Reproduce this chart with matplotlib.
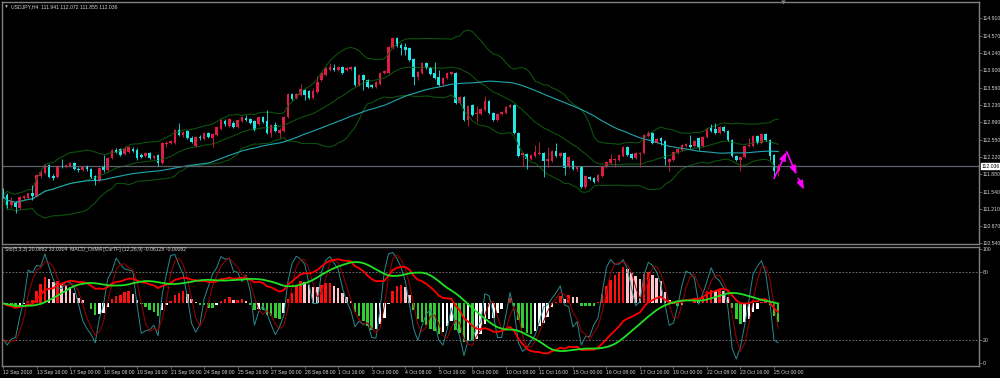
import matplotlib.pyplot as plt
import numpy as np
import pandas as pd

plt.rcParams['font.family'] = ['Liberation Sans', 'DejaVu Sans']

# USDJPY H4 candles, 12 Sep 2018 -> 25 Oct 2018 04:00
opens = [
    111.58, 111.48, 111.28, 111.32, 111.23, 111.42, 111.42, 111.52, 111.46, 111.85,
    111.91, 112.06, 111.85, 111.83, 112.04, 112.02, 112.04, 112.10, 111.98, 111.96,
    112.02, 111.98, 111.85, 111.75, 112.02, 111.96, 112.20, 112.35, 112.37, 112.27,
    112.31, 112.37, 112.35, 112.25, 112.24, 112.29, 112.20, 112.25, 112.10, 112.47,
    112.49, 112.49, 112.74, 112.64, 112.72, 112.59, 112.43, 112.60, 112.57, 112.68,
    112.59, 112.64, 112.76, 112.92, 112.82, 112.88, 112.80, 112.92, 112.97, 112.95,
    112.92, 112.86, 112.99, 112.92, 112.68, 112.84, 112.68, 112.72, 112.99, 113.44,
    113.36, 113.42, 113.52, 113.50, 113.36, 113.48, 113.71, 113.81, 113.91, 113.94,
    113.91, 113.96, 113.91, 113.92, 113.96, 113.61, 113.81, 113.71, 113.61, 113.58,
    113.63, 113.85, 113.85, 114.33, 114.53, 114.39, 114.35, 114.33, 114.12, 113.77,
    113.85, 114.04, 113.94, 113.85, 113.77, 113.63, 113.75, 113.83, 113.85, 113.26,
    113.38, 112.93, 113.23, 113.05, 113.05, 113.13, 113.30, 113.07, 112.93, 113.05,
    113.07, 113.19, 113.23, 112.68, 112.25, 112.27, 112.18, 112.24, 112.27, 112.29,
    112.14, 112.14, 112.33, 112.24, 112.29, 112.02, 112.14, 111.98, 112.02, 111.63,
    111.83, 111.81, 111.75, 111.85, 112.02, 112.10, 112.16, 112.16, 112.24, 112.41,
    112.27, 112.20, 112.27, 112.29, 112.62, 112.68, 112.49, 112.59, 112.53, 112.12,
    112.16, 112.29, 112.35, 112.43, 112.45, 112.43, 112.59, 112.43, 112.60, 112.78,
    112.76, 112.68, 112.80, 112.72, 112.55, 112.24, 112.16, 112.22, 112.43, 112.43,
    112.62, 112.49, 112.66, 112.55, 112.25, 111.941,
]
highs = [
    111.61, 111.52, 111.44, 111.36, 111.46, 111.48, 111.52, 111.67, 111.89, 111.96,
    112.08, 112.08, 111.89, 112.06, 112.18, 112.08, 112.12, 112.12, 112.02, 112.04,
    112.06, 112.00, 111.87, 112.02, 112.25, 112.22, 112.37, 112.39, 112.39, 112.43,
    112.43, 112.41, 112.39, 112.29, 112.31, 112.31, 112.25, 112.27, 112.51, 112.53,
    112.55, 112.76, 112.88, 112.72, 112.74, 112.62, 112.62, 112.64, 112.70, 112.70,
    112.68, 112.82, 112.95, 112.95, 112.97, 112.92, 112.95, 113.01, 113.03, 112.97,
    112.93, 113.01, 113.01, 113.13, 112.86, 112.90, 112.78, 113.01, 113.46, 113.46,
    113.46, 113.63, 113.54, 113.52, 113.56, 113.79, 113.87, 113.96, 114.04, 114.02,
    113.98, 113.98, 113.96, 113.98, 113.98, 113.83, 113.83, 113.73, 113.63, 113.69,
    113.87, 113.91, 114.37, 114.55, 114.55, 114.43, 114.43, 114.35, 114.14, 113.89,
    114.06, 114.06, 113.96, 114.06, 113.91, 113.77, 113.87, 113.89, 113.87, 113.40,
    113.40, 113.23, 113.25, 113.21, 113.17, 113.40, 113.32, 113.09, 113.07, 113.11,
    113.21, 113.25, 113.25, 112.70, 112.31, 112.29, 112.27, 112.45, 112.51, 112.31,
    112.41, 112.35, 112.49, 112.31, 112.31, 112.24, 112.16, 112.04, 112.04, 111.87,
    111.85, 111.83, 111.89, 112.06, 112.14, 112.27, 112.20, 112.27, 112.43, 112.43,
    112.29, 112.31, 112.31, 112.66, 112.72, 112.70, 112.59, 112.60, 112.55, 112.20,
    112.33, 112.39, 112.47, 112.49, 112.64, 112.55, 112.60, 112.62, 112.78, 112.86,
    112.88, 112.82, 112.82, 112.74, 112.57, 112.25, 112.24, 112.45, 112.59, 112.64,
    112.64, 112.68, 112.68, 112.57, 112.27, 112.072,
]
lows = [
    111.42, 111.23, 111.25, 111.13, 111.21, 111.38, 111.40, 111.38, 111.44, 111.81,
    111.89, 111.81, 111.77, 111.81, 112.00, 112.00, 112.02, 111.96, 111.92, 111.94,
    111.94, 111.81, 111.67, 111.73, 111.92, 111.94, 112.18, 112.29, 112.24, 112.25,
    112.29, 112.31, 112.16, 112.20, 112.22, 112.18, 112.18, 112.04, 112.08, 112.41,
    112.47, 112.47, 112.62, 112.60, 112.57, 112.49, 112.41, 112.55, 112.55, 112.59,
    112.41, 112.62, 112.74, 112.82, 112.80, 112.78, 112.78, 112.90, 112.92, 112.86,
    112.72, 112.84, 112.88, 112.66, 112.60, 112.70, 112.59, 112.70, 112.97, 113.32,
    113.34, 113.40, 113.32, 113.34, 113.34, 113.46, 113.69, 113.79, 113.89, 113.89,
    113.89, 113.83, 113.89, 113.91, 113.60, 113.60, 113.52, 113.56, 113.56, 113.56,
    113.61, 113.83, 113.83, 114.31, 114.35, 114.20, 114.20, 114.08, 113.61, 113.71,
    113.83, 113.92, 113.81, 113.73, 113.60, 113.60, 113.73, 113.81, 113.25, 113.25,
    112.92, 112.82, 113.01, 112.90, 113.03, 113.11, 113.05, 112.92, 112.92, 113.03,
    113.05, 113.17, 112.66, 112.22, 112.04, 111.98, 112.16, 112.22, 112.25, 111.83,
    112.02, 112.12, 112.22, 112.22, 111.87, 112.00, 111.96, 111.94, 111.61, 111.61,
    111.77, 111.71, 111.73, 111.83, 112.00, 112.08, 112.02, 112.14, 112.22, 112.24,
    112.18, 112.18, 112.02, 112.27, 112.60, 112.47, 112.47, 112.45, 112.06, 111.94,
    112.14, 112.27, 112.33, 112.41, 112.39, 112.41, 112.35, 112.41, 112.59, 112.70,
    112.66, 112.66, 112.70, 112.53, 112.22, 112.14, 111.94, 112.20, 112.41, 112.41,
    112.47, 112.47, 112.53, 112.16, 111.83, 111.855,
]
closes = [
    111.46, 111.28, 111.34, 111.25, 111.44, 111.46, 111.52, 111.46, 111.87, 111.92,
    112.06, 111.83, 111.81, 112.04, 112.02, 112.06, 112.10, 111.98, 111.96, 112.02,
    111.98, 111.83, 111.75, 112.00, 111.96, 112.20, 112.35, 112.31, 112.25, 112.37,
    112.41, 112.33, 112.20, 112.22, 112.29, 112.20, 112.24, 112.10, 112.49, 112.49,
    112.53, 112.74, 112.64, 112.70, 112.59, 112.51, 112.60, 112.59, 112.68, 112.60,
    112.66, 112.80, 112.93, 112.86, 112.95, 112.80, 112.93, 112.99, 112.93, 112.88,
    112.74, 112.99, 112.90, 112.68, 112.84, 112.72, 112.74, 112.99, 113.44, 113.34,
    113.44, 113.54, 113.42, 113.36, 113.50, 113.67, 113.85, 113.94, 113.96, 113.91,
    113.96, 113.85, 113.94, 113.96, 113.61, 113.81, 113.71, 113.58, 113.58, 113.67,
    113.85, 113.89, 114.35, 114.53, 114.37, 114.33, 114.29, 114.10, 113.77, 113.87,
    114.04, 113.94, 113.83, 113.75, 113.61, 113.75, 113.85, 113.87, 113.26, 113.38,
    112.93, 113.21, 113.03, 113.07, 113.15, 113.30, 113.07, 112.93, 113.05, 113.09,
    113.19, 113.23, 112.68, 112.24, 112.29, 112.18, 112.25, 112.31, 112.29, 112.14,
    112.18, 112.33, 112.24, 112.29, 112.00, 112.22, 111.98, 112.02, 111.63, 111.85,
    111.79, 111.73, 111.87, 112.04, 112.12, 112.18, 112.18, 112.25, 112.41, 112.25,
    112.20, 112.29, 112.29, 112.64, 112.68, 112.49, 112.57, 112.53, 112.18, 112.18,
    112.31, 112.37, 112.45, 112.47, 112.41, 112.53, 112.41, 112.60, 112.76, 112.72,
    112.68, 112.80, 112.72, 112.55, 112.24, 112.16, 112.22, 112.43, 112.45, 112.62,
    112.49, 112.66, 112.55, 112.24, 111.94, 112.036,
]

date_labels = [
    '12 Sep 2018', '13 Sep 16:00', '17 Sep 00:00', '18 Sep 08:00', '19 Sep 16:00',
    '21 Sep 00:00', '24 Sep 08:00', '25 Sep 16:00', '27 Sep 00:00', '28 Sep 08:00',
    '1 Oct 16:00', '3 Oct 00:00', '4 Oct 08:00', '5 Oct 16:00', '9 Oct 00:00',
    '10 Oct 08:00', '11 Oct 16:00', '15 Oct 00:00', '16 Oct 08:00', '17 Oct 16:00',
    '19 Oct 00:00', '22 Oct 08:00', '23 Oct 16:00', '25 Oct 00:00',
]
price_ticks = [114.910, 114.570, 114.240, 113.900, 113.560, 113.230, 112.890,
               112.550, 112.220, 111.880, 111.540, 111.210, 110.870, 110.540]
bid = 112.036

# hand drawn projection (magenta arrows): bar index, price
proj_from_x = [184.0, 187.0, 189.8]
proj_from_y = [111.80, 112.32, 111.80]
proj_to_x = [187.0, 189.4, 191.2]
proj_to_y = [112.32, 111.87, 111.58]

BULL = '#dc1e46'
BEAR = '#22e6e6'
FG = '#808080'
TXT = '#d4d4d4'

o = np.array(opens)
h = np.array(highs)
l = np.array(lows)
c = np.array(closes)
idx = np.arange(len(c))
cs = pd.Series(c)

# indicators
mid = cs.rolling(20, min_periods=1).mean()
sd = cs.rolling(20, min_periods=2).std(ddof=0).fillna(0)
ma = cs.rolling(50, min_periods=1).mean()

ll = pd.Series(l).rolling(5, min_periods=1).min()
hh = pd.Series(h).rolling(5, min_periods=1).max()
sto_k = (cs - ll).rolling(3, min_periods=1).sum() / (hh - ll).rolling(3, min_periods=1).sum() * 100
sto_d = sto_k.rolling(3, min_periods=1).mean()

macd = cs.ewm(span=12, adjust=False).mean() - cs.ewm(span=26, adjust=False).mean()
sig = macd.rolling(9, min_periods=1).mean()
osma = macd - sig

W, H = 1000, 378
fig = plt.figure(figsize=(10, 3.78), dpi=100, facecolor='black')
ax = fig.add_axes([2 / W, 1 - 244 / H, 976.5 / W, 242 / H])
ax2 = fig.add_axes([2 / W, 1 - 366 / H, 976.5 / W, 119 / H])

xl = (-0.24, 232.8)
for a in (ax, ax2):
    a.set_facecolor('black')
    a.set_xlim(*xl)
    for s in a.spines.values():
        s.set_color(FG)
        s.set_linewidth(1.0)
    a.yaxis.tick_right()
    a.tick_params(axis='y', colors=FG, labelcolor=TXT, labelsize=3.7,
                  length=2, width=0.5, pad=1)

# ---- price panel
ax.set_ylim(110.527, 115.226)
ax.set_xticks([])
ax.set_yticks(price_ticks)
ax.set_yticklabels([f'{p:.3f}' for p in price_ticks])

ax.plot(idx, mid + 2 * sd, color='#0c520c', lw=0.8)
ax.plot(idx, mid, color='#0c520c', lw=0.8)
ax.plot(idx, mid - 2 * sd, color='#0c520c', lw=0.8)
ax.plot(idx, ma, color='#1fa7b0', lw=0.8)

ax.axhline(bid, color='#5c6068', lw=0.9)

col = np.where(c >= o, BULL, BEAR)
ax.vlines(idx, l, h, colors=col, lw=0.6)
ax.bar(idx, np.maximum(np.abs(c - o), 0.012), bottom=np.minimum(o, c),
       width=0.62, color=col, lw=0)

for x0, y0, x1, y1 in zip(proj_from_x, proj_from_y, proj_to_x, proj_to_y):
    ax.annotate('', xy=(x1, y1), xytext=(x0, y0),
                arrowprops=dict(arrowstyle='-|>,head_length=0.5,head_width=0.18',
                                color='#ff00ff', lw=1.2, shrinkA=0, shrinkB=0))

ax.text(1.003, bid, f'{bid:.3f}', transform=ax.get_yaxis_transform(),
        fontsize=3.7, color='black', va='center', ha='left',
        bbox=dict(facecolor='white', edgecolor='white', pad=0.4))

ax.text(0.0095, 0.982, 'USDJPY,H4  111.941 112.072 111.855 112.036',
        transform=ax.transAxes, fontsize=3.7, color=TXT, va='center', ha='left')
ax.plot([0.004], [0.982], transform=ax.transAxes, marker='v', ms=1.8,
        color=TXT, mew=0)
ax.plot([0.7998], [1.0], transform=ax.transAxes, marker='v', ms=3,
        color=FG, mew=0, clip_on=False)

# ---- indicator panel
ax2.set_ylim(-2.6, 102)
ax2.set_yticks([100, 80, 20, 0])
ax2.set_yticklabels(['100', '80', '20', '0'])
ax2.axhline(80, color=FG, lw=0.6, ls=(0, (2, 2)))
ax2.axhline(20, color=FG, lw=0.6, ls=(0, (2, 2)))

zero = 52.5
d_os = osma.diff().fillna(0)
hcol = np.where(osma >= 0, np.where(d_os >= 0, '#ff1010', '#ffc4cc'),
                np.where(d_os < 0, '#33cc33', '#ffffff'))
h_scale = 34 / np.abs(osma).max()
ax2.bar(idx, osma * h_scale, bottom=zero, width=0.6, color=hcol, lw=0)

ax2.plot(idx, sto_k, color='#2a8a8c', lw=0.7)
ax2.plot(idx, sto_d, color='#a00000', lw=0.7)

l_scale = 44 / max(np.abs(macd).max(), np.abs(sig).max())
ax2.plot(idx, zero + macd * l_scale, color='#ff0000', lw=1.3)
ax2.plot(idx, zero + sig * l_scale, color='#22e022', lw=1.3)

ax2.text(0.003, 0.975, 'Sto(5,3,3) 20.0882 33.0304  MACD_OsMA [CurTF] (12,26,9) -0.06128 -0.00082',
         transform=ax2.transAxes, fontsize=3.7, color=TXT, va='center', ha='left')

ticks = np.arange(0, len(c), 8)
ax2.set_xticks(ticks)
ax2.set_xticklabels(date_labels)
ax2.tick_params(axis='x', colors=FG, labelcolor=TXT, labelsize=3.7,
                length=2, width=0.5, pad=1)
for t in ax2.get_xticklabels():
    t.set_horizontalalignment('left')

fig.savefig('out.png', dpi=100, facecolor='black')
